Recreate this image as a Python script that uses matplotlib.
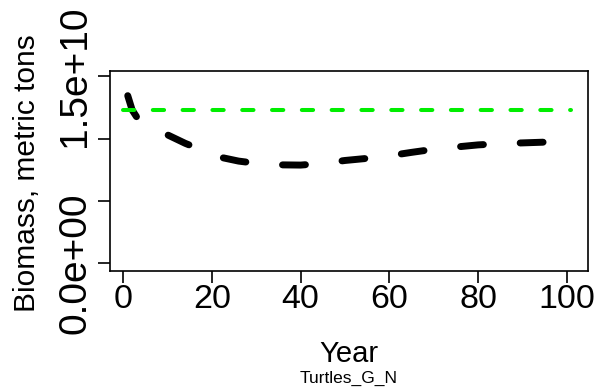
import numpy as np
import matplotlib
matplotlib.use("Agg")
import matplotlib.pyplot as plt

plt.rcParams['font.family'] = ['Liberation Sans', 'DejaVu Sans']

# biomass trajectory (metric tons) by year
years = [1, 2, 3, 5, 7, 10, 14, 18, 22, 26, 30, 35, 40, 45, 50,
         55, 60, 65, 70, 75, 80, 85, 90, 95, 101]
biomass = [13.45e9, 12.3e9, 11.75e9, 11.25e9, 10.85e9, 10.3e9, 9.62e9, 9.05e9,
           8.5e9, 8.2e9, 8.02e9, 7.9e9, 7.88e9, 8.02e9, 8.25e9, 8.42e9, 8.63e9,
           8.9e9, 9.15e9, 9.33e9, 9.5e9, 9.6e9, 9.66e9, 9.72e9, 9.78e9]

# reference level
ref_years = [0, 101]
ref_level = [12.3e9, 12.3e9]

yticks = [0, 5e9, 1e10, 1.5e10]
ytick_labels = ["0.0e+00", "", "", "1.5e+10"]
xticks = [0, 20, 40, 60, 80, 100]

fig = plt.figure(figsize=(6, 3.88), dpi=100)
ax = fig.add_axes([110/600, 1 - 271/388, 478/600, 200/388])

lw_b = 5.0
ax.plot(years, biomass, color='black', lw=lw_b, solid_capstyle='round',
        dash_capstyle='round', dashes=(3.3, 5.3))
lw_g = 2.9
ax.plot(ref_years, ref_level, color='#00ee00', lw=lw_g, dash_capstyle='round',
        dashes=(2.8, 4.6))

ax.set_xlim(-3.0, 104.8)
ax.set_ylim(-0.62e9, 15.43e9)
ax.set_xticks(xticks)
ax.set_xticklabels([str(x) for x in xticks])
ax.set_yticks(yticks)
ax.set_yticklabels(ytick_labels)

for s in ax.spines.values():
    s.set_linewidth(1.2)
ax.tick_params(axis='both', length=8.5, width=1.2, direction='out')
ax.tick_params(axis='x', labelsize=24.5, pad=0.5)
ax.tick_params(axis='y', labelsize=28, pad=3.5, labelrotation=90)
plt.setp(ax.get_yticklabels(), va='center')

fig.text(349/600, 1 - 362/388, "Year", fontsize=21, ha='center', va='baseline')
fig.text(349/600, 1 - 383/388, "Turtles_G_N", fontsize=12.5, ha='center', va='baseline')
fig.text(35/600, 1 - 173/388, "Biomass, metric tons", fontsize=21.5, rotation=90,
         rotation_mode='anchor', ha='center', va='baseline')

plt.savefig("out.png", dpi=100)
